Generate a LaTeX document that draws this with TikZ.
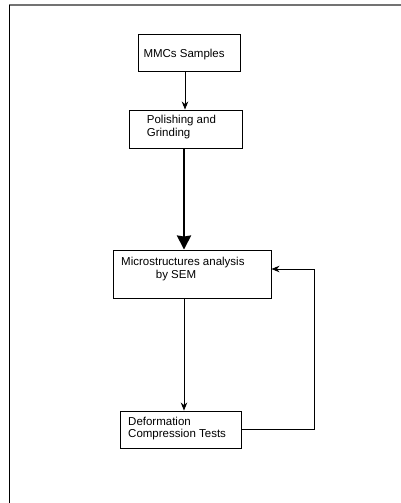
\documentclass[tikz,border=0pt]{standalone}
\usepackage{fontspec}
\setmainfont{Liberation Sans}
\usetikzlibrary{arrows.meta}
\begin{document}
\begin{tikzpicture}[x=1pt,y=1pt,
  box/.style={draw=black, line width=0.9pt, rectangle, inner sep=0pt},
  lbl/.style={inner sep=0pt, font=\fontsize{11.5}{13}\selectfont, anchor=base west},
  conn/.style={line width=0.9pt, -{Stealth[length=8pt,width=6.5pt,inset=2.5pt]}},
  thick conn/.style={line width=2.6pt, -{Stealth[length=14pt,width=14pt,inset=1pt]}}]
\useasboundingbox (0,0) rectangle (401,-503);
% frame
\draw[line width=2pt, gray!90!black] (9,-5.5) -- (401,-5.5);
\draw[line width=1.3pt, black] (9.5,-5) -- (9.5,-503);
% boxes
\node[box, minimum width=102pt, minimum height=37pt] (mmc) at (189,-52.5) {};
\node[box, minimum width=113pt, minimum height=38pt] (pol) at (185.5,-129) {};
\node[box, minimum width=158pt, minimum height=48pt] (mic) at (192,-274) {};
\node[box, minimum width=121pt, minimum height=37pt] (def) at (180.5,-429.5) {};
% texts
\node[lbl] (t1) at (143.3,-57.7) {MMCs Samples};
\node[lbl] (t2) at (146.7,-123.3) {Polishing and};
\node[lbl] (t3) at (146.7,-136) {Grinding};
\node[lbl] (t4) at (121,-265) {Microstructures analysis};
\node[lbl] (t5) at (155.7,-278) {by SEM};
\node[lbl] (t6) at (128,-425) {Deformation};
\node[lbl] (t7) at (128,-437.5) {Compression Tests};
% connectors
\draw[conn] (mmc.south -| 185,0) -- (pol.north -| 185,0);
\draw[thick conn] (pol.south -| 184,0) -- (mic.north -| 184,0);
\draw[conn] (mic.south -| 184,0) -- (def.north -| 184,0);
\coordinate (fb) at (314,-429.5);
\draw[conn] (def.east) -- (fb) |- ([yshift=5pt]mic.east);
\end{tikzpicture}
\end{document}
